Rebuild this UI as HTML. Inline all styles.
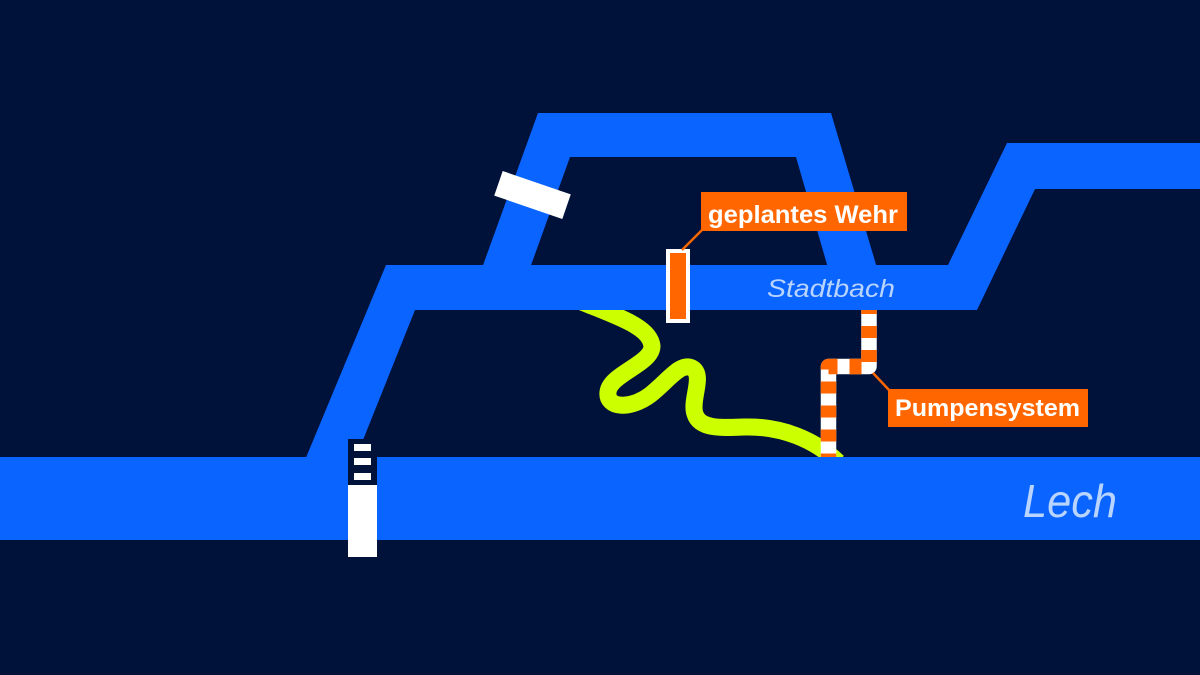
<!DOCTYPE html>
<html>
<head>
<meta charset="utf-8">
<style>
  html, body { margin: 0; padding: 0; background: #00113a; }
  svg { display: block; }
  text { font-family: "Liberation Sans", "DejaVu Sans", sans-serif; }
</style>
</head>
<body>
<svg width="1200" height="675" viewBox="0 0 1200 675" xmlns="http://www.w3.org/2000/svg">
  <rect x="0" y="0" width="1200" height="675" fill="#00113a"/>

  <!-- Top loop -->
  <polygon points="482,268 538,113 831,113 877,268 828,268 796,157 570,157 530,268" fill="#0a64ff"/>

  <!-- Stadtbach with left and right branches -->
  <polygon points="305,460 386,265 948,265 1007,143 1200,143 1200,189 1035,189 977,310 415,310 355,460" fill="#0a64ff"/>

  <!-- Lech -->
  <rect x="0" y="457" width="1200" height="83" fill="#0a64ff"/>

  <!-- Green river -->
  <path d="M 577,300 C 615,316 650,326 652,346 C 652,364 610,374 608,392 C 606,408 630,410 650,395 C 668,381 680,362 692,368 C 705,375 690,400 695,414 C 700,429 720,428 745,427 C 782,426 815,440 838,462"
        fill="none" stroke="#ccff00" stroke-width="17" stroke-linecap="butt" stroke-linejoin="round"/>
  <!-- clip river ends -->
  <rect x="540" y="285" width="120" height="25" fill="#0a64ff"/>
  <rect x="780" y="457" width="100" height="20" fill="#0a64ff"/>

  <!-- Pump pipe -->
  <path d="M 869,310 V 366.5 H 828.5 V 457" fill="none" stroke="#ffffff" stroke-width="15.5" stroke-linejoin="round"/>
  <path d="M 869,310 V 366.5 H 828.5 V 457" fill="none" stroke="#ff6600" stroke-width="15.5" stroke-linejoin="round" stroke-dasharray="12 12" stroke-dashoffset="8"/>

  <!-- Pump leader + label -->
  <line x1="873" y1="373" x2="889" y2="390" stroke="#ff6600" stroke-width="2.5"/>
  <rect x="888" y="389" width="200" height="38" fill="#ff6600"/>
  <text x="895" y="416" font-size="24" font-weight="bold" fill="#ffffff" textLength="185" lengthAdjust="spacingAndGlyphs">Pumpensystem</text>

  <!-- Planned weir -->
  <rect x="666" y="249" width="24" height="74" fill="#ffffff"/>
  <rect x="670" y="253" width="16" height="66" fill="#ff6600"/>
  <line x1="682" y1="250" x2="702" y2="230" stroke="#ff6600" stroke-width="2.5"/>
  <rect x="701" y="192" width="206" height="39" fill="#ff6600"/>
  <text x="708" y="223" font-size="25" font-weight="bold" fill="#ffffff" textLength="190" lengthAdjust="spacingAndGlyphs">geplantes Wehr</text>

  <!-- White rotated gate on loop -->
  <rect x="-36" y="-13" width="72" height="26" fill="#ffffff" transform="translate(532.5,195) rotate(19)"/>

  <!-- Left structure on Lech -->
  <rect x="348" y="439" width="29" height="46" fill="#00113a"/>
  <rect x="348" y="485" width="29" height="72" fill="#ffffff"/>
  <rect x="354" y="444" width="17" height="7" fill="#ffffff"/>
  <rect x="354" y="458" width="17" height="7" fill="#ffffff"/>
  <rect x="354" y="473" width="17" height="7" fill="#ffffff"/>

  <!-- Labels -->
  <text x="767" y="297" font-size="25" font-style="italic" fill="#b8d4ff" textLength="128" lengthAdjust="spacingAndGlyphs">Stadtbach</text>
  <text x="1023" y="517" font-size="46" font-style="italic" fill="#b8d4ff" textLength="94" lengthAdjust="spacingAndGlyphs">Lech</text>
</svg>
</body>
</html>
